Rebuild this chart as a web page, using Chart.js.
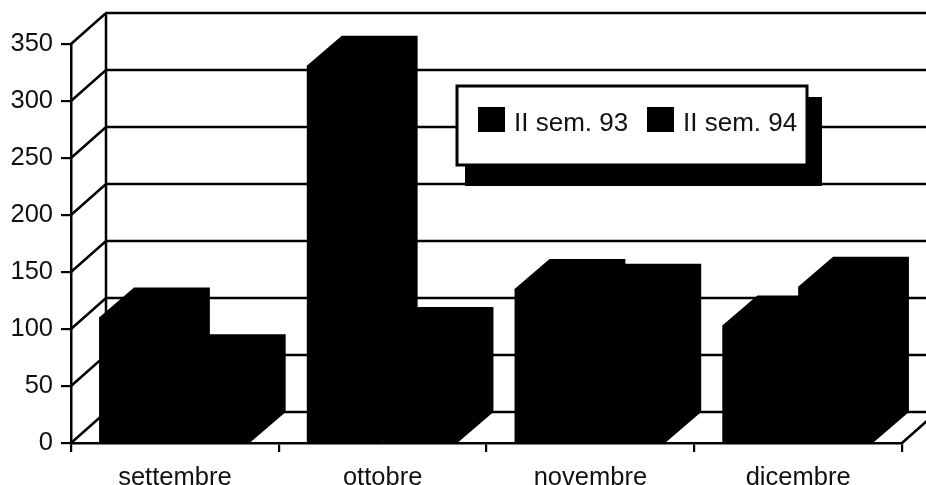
<!DOCTYPE html>
<html>
<head>
<meta charset="utf-8">
<style>html,body{margin:0;padding:0;background:#fff}canvas{display:block}</style>
<script src="https://cdn.jsdelivr.net/npm/chart.js@4"></script>
</head>
<body>
<canvas id="c" width="926" height="485"></canvas>
<script>
const categories = ['settembre', 'ottobre', 'novembre', 'dicembre'];
const sem93 = [110, 331, 135, 103];
const sem94 = [69, 93, 131, 137];
const seriesNames = ['II sem. 93', 'II sem. 94'];
const yTicks = [0, 50, 100, 150, 200, 250, 300, 350];

const FONT = '"Liberation Sans", Arial, sans-serif';
const INK = '#000';
const wallDX = 35, wallDY = 31, barDX = 35, barDY = 30;

const walls = {
  id: 'walls',
  beforeDatasetsDraw(chart) {
    const {ctx, chartArea: a, scales: {y}} = chart;
    ctx.save();
    ctx.strokeStyle = INK;
    ctx.lineWidth = 2.5;
    ctx.lineCap = 'round';
    ctx.beginPath();
    ctx.moveTo(a.left + wallDX, y.getPixelForValue(350) - wallDY);
    ctx.lineTo(a.left + wallDX, y.getPixelForValue(0) - wallDY);
    yTicks.forEach(v => {
      const p = y.getPixelForValue(v);
      ctx.moveTo(a.left, p);
      ctx.lineTo(a.left + wallDX, p - wallDY);
      ctx.lineTo(a.right + wallDX, p - wallDY);
    });
    ctx.moveTo(a.right, y.getPixelForValue(0));
    ctx.lineTo(a.right + wallDX, y.getPixelForValue(0) - wallDY);
    ctx.stroke();
    ctx.restore();
  },
  afterDatasetsDraw(chart) {
    const {ctx} = chart;
    ctx.save();
    chart.data.datasets.forEach((ds, i) => {
      ctx.fillStyle = ds.backgroundColor;
      chart.getDatasetMeta(i).data.forEach(bar => {
        const l = bar.x - bar.width / 2, r = bar.x + bar.width / 2;
        ctx.beginPath();
        ctx.moveTo(l, bar.y);
        ctx.lineTo(l + barDX, bar.y - barDY);
        ctx.lineTo(r + barDX, bar.y - barDY);
        ctx.lineTo(r + barDX, bar.base - barDY);
        ctx.lineTo(r, bar.base);
        ctx.closePath();
        ctx.fill();
      });
    });
    ctx.restore();
  }
};

const boxLegend = {
  id: 'boxLegend',
  afterDraw(chart) {
    const {ctx} = chart;
    ctx.save();
    ctx.fillStyle = INK;
    ctx.fillRect(465, 97, 357, 89);
    ctx.fillStyle = '#fff';
    ctx.strokeStyle = INK;
    ctx.lineWidth = 3;
    ctx.fillRect(457, 86, 350, 79);
    ctx.strokeRect(457, 86, 350, 79);
    const swatchX = [478, 647], textX = [514, 683];
    ctx.font = '26px ' + FONT;
    ctx.textBaseline = 'alphabetic';
    chart.data.datasets.forEach((ds, i) => {
      ctx.fillStyle = ds.backgroundColor;
      ctx.fillRect(swatchX[i], 107, 27, 25);
      ctx.fillStyle = '#111';
      ctx.fillText(ds.label, textX[i], 131);
    });
    ctx.restore();
  }
};

new Chart(document.getElementById('c'), {
  type: 'bar',
  data: {
    labels: categories,
    datasets: [
      {label: seriesNames[0], data: sem93, backgroundColor: INK, borderWidth: 0},
      {label: seriesNames[1], data: sem94, backgroundColor: INK, borderWidth: 0}
    ]
  },
  plugins: [walls, boxLegend],
  options: {
    responsive: false,
    animation: false,
    layout: {padding: {top: 44, right: 24, left: 0, bottom: 0}},
    datasets: {bar: {categoryPercentage: 0.73, barPercentage: 1}},
    plugins: {legend: {display: false}, tooltip: {enabled: false}},
    scales: {
      x: {
        afterFit(s) { s.height = 42; },
        grid: {offset: true, drawOnChartArea: false, drawTicks: true, tickLength: 9, color: INK, lineWidth: 2.2},
        border: {color: INK, width: 2.5},
        ticks: {autoSkip: false, maxRotation: 0, color: '#111', padding: 11, font: {family: FONT, size: 25.5}}
      },
      y: {
        min: 0,
        max: 350,
        afterFit(s) { s.width = 71; },
        afterBuildTicks(s) { s.ticks = yTicks.map(v => ({value: v})); },
        grid: {drawOnChartArea: false, drawTicks: true, tickLength: 10, color: INK, lineWidth: 2.2},
        border: {color: INK, width: 2.5},
        ticks: {color: '#111', padding: 8, font: {family: FONT, size: 25.5}}
      }
    }
  }
});
</script>
</body>
</html>
